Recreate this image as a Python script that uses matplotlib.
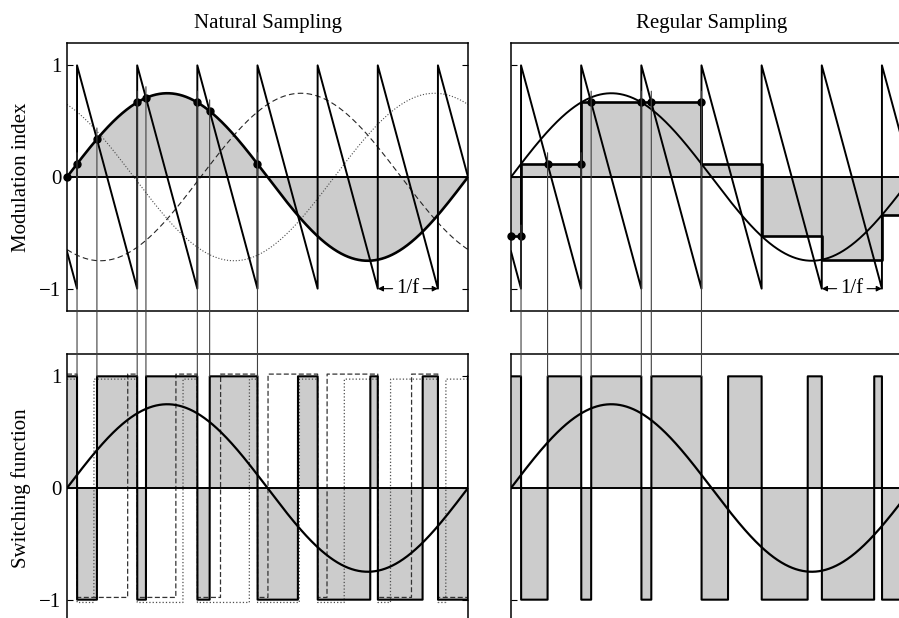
import numpy as np
import matplotlib.pyplot as plt
from matplotlib.patches import ConnectionPatch

plt.rcParams['font.family'] = ['Liberation Serif', 'DejaVu Serif']

# values (time in units of one modulation period)
m_index = 0.75
carrier_period = 0.15
carrier_offset = 0.025
phase_shifts = [0.0, -2 * np.pi / 3, 2 * np.pi / 3]   # solid, dashed, dotted phase
n_marked = 4                                          # carrier periods marked with dots
titles = ['Natural Sampling', 'Regular Sampling']
ylabels = ['Modulation index', 'Switching function']
yticks = [-1, 0, 1]
ytick_labels = ['\u22121', '0', '1']

GRAY = '#cccccc'


def modulating(t, phase=0.0):
    return m_index * np.sin(2 * np.pi * t + phase)


def carrier(t):
    return 1 - 2 * ((t - carrier_offset) % carrier_period) / carrier_period


def bisect(f, a, b, n=60):
    for _ in range(n):
        c = 0.5 * (a + b)
        if f(a) * f(c) <= 0:
            b = c
        else:
            a = c
    return 0.5 * (a + b)


jumps = carrier_offset + carrier_period * np.arange(0, 7)
t = np.linspace(0, 1, 40001)
saw = carrier(t)

# sawtooth as a polyline with vertical flanks
saw_x = [0.0]
saw_y = [carrier(0.0)]
for tk in jumps:
    saw_x += [tk, tk]
    saw_y += [-1, 1]
saw_x.append(1.0)
saw_y.append(carrier(1.0))

# regular sampling: sample at each carrier flank, hold until the next one
sample_times = carrier_offset + carrier_period * np.arange(-1, 7)
stair_vals = modulating(sample_times)
stair_x = np.concatenate([[0.0], jumps, [1.0]])
stair_y = np.concatenate([stair_vals, [stair_vals[-1]]])
stair = stair_vals[np.searchsorted(jumps, t, side='right')]

# switching functions
sw_nat = [np.where(modulating(t, ph) > saw, 1.0, -1.0) for ph in phase_shifts]
sw_reg = np.where(stair > saw, 1.0, -1.0)

# intersection points (first few carrier periods)
nat_pts = [(0.0, 0.0)]
reg_pts = [(0.0, stair_vals[0])]
for k in range(n_marked):
    tk = jumps[k]
    nat_pts.append((tk, modulating(tk)))
    reg_pts.append((tk, stair_vals[k]))
    if k < n_marked - 1:
        f = lambda x: modulating(x) - (1 - 2 * (x - tk) / carrier_period)
        tc = bisect(f, tk, tk + carrier_period)
        nat_pts.append((tc, modulating(tc)))
        v = stair_vals[k + 1]
        tc = tk + carrier_period * (1 - v) / 2
        reg_pts.append((tc, v))

fig = plt.figure(figsize=(8.99, 6.18), dpi=100)
W, H = 899, 618


def px_axes(x0, y0, w, h):
    return fig.add_axes([x0 / W, 1 - (y0 + h) / H, w / W, h / H])


ax_tl = px_axes(67, 43, 401, 268)
ax_tr = px_axes(511, 43, 401, 268)
ax_bl = px_axes(67, 354, 401, 268)
ax_br = px_axes(511, 354, 401, 268)

for ax in (ax_tl, ax_tr, ax_bl, ax_br):
    ax.set_xlim(0, 1)
    ax.set_ylim(-1.2, 1.2)
    ax.set_xticks([])
    ax.set_yticks(yticks)
    ax.tick_params(direction='in', length=4, width=0.8, left=True, right=True,
                   labelsize=15, pad=4)
    for s in ax.spines.values():
        s.set_linewidth(1.1)
    ax.axhline(0, color='k', lw=1.4, zorder=4)

for ax in (ax_tl, ax_bl):
    ax.set_yticklabels(ytick_labels)
for ax in (ax_tr, ax_br):
    ax.set_yticklabels([])

ax_tl.set_title(titles[0], fontsize=15, pad=11)
ax_tr.set_title(titles[1], fontsize=15, pad=11)
ax_tl.set_ylabel(ylabels[0], fontsize=15)
ax_bl.set_ylabel(ylabels[1], fontsize=15)
ax_tl.yaxis.set_label_coords(-0.09, 0.5)
ax_bl.yaxis.set_label_coords(-0.09, 0.5)

# top left: natural sampling
ax_tl.fill_between(t, modulating(t), 0, color=GRAY, lw=0, zorder=1)
ax_tl.plot(t, modulating(t, phase_shifts[1]), color='0.15', lw=0.8, ls=(0, (5, 3)), zorder=2)
ax_tl.plot(t, modulating(t, phase_shifts[2]), color='0.3', lw=0.8, ls=':', zorder=2)
ax_tl.plot(t, modulating(t), color='k', lw=1.9, zorder=5)
ax_tl.plot(saw_x, saw_y, color='k', lw=1.4, zorder=5)
px, py = zip(*nat_pts)
ax_tl.plot(px, py, 'o', color='k', ms=5, zorder=7, clip_on=False)

# top right: regular sampling
ax_tr.fill_between(stair_x, stair_y, 0, step='post', color=GRAY, lw=0, zorder=1)
ax_tr.plot(stair_x, stair_y, drawstyle='steps-post', color='k', lw=1.9, zorder=5)
ax_tr.plot(t, modulating(t), color='k', lw=1.4, zorder=5)
ax_tr.plot(saw_x, saw_y, color='k', lw=1.4, zorder=5)
px, py = zip(*reg_pts)
ax_tr.plot(px, py, 'o', color='k', ms=5, zorder=7, clip_on=False)

# carrier period annotation
for ax in (ax_tl, ax_tr):
    t0, t1 = jumps[5], jumps[6]
    tm = 0.5 * (t0 + t1)
    arrow = dict(arrowstyle='-|>', color='k', lw=0.8, mutation_scale=8,
                 shrinkA=0, shrinkB=0)
    ax.annotate('', xy=(t0, -1), xytext=(tm - 0.038, -1), arrowprops=arrow, zorder=6)
    ax.annotate('', xy=(t1, -1), xytext=(tm + 0.038, -1), arrowprops=arrow, zorder=6)
    ax.text(tm, -1, '1/f', ha='center', va='center', fontsize=15, zorder=6)

# bottom left: natural switching functions
ax_bl.fill_between(t, sw_nat[0], 0, color=GRAY, lw=0, zorder=1)
ax_bl.plot(t, sw_nat[1] + 0.02, color='0.2', lw=0.9, ls=(0, (4, 2)), zorder=2)
ax_bl.plot(t, sw_nat[2] - 0.025, color='0.3', lw=0.9, ls=':', zorder=2)
ax_bl.plot(t, sw_nat[0], color='k', lw=1.5, zorder=3)
ax_bl.plot(t, modulating(t), color='k', lw=1.6, zorder=5)

# bottom right: regular switching function
ax_br.fill_between(t, sw_reg, 0, color=GRAY, lw=0, zorder=1)
ax_br.plot(t, sw_reg, color='k', lw=1.5, zorder=3)
ax_br.plot(t, modulating(t), color='k', lw=1.6, zorder=5)

# connectors from crossing points down to the switching functions
for top, bot, pts in ((ax_tl, ax_bl, nat_pts[1:]), (ax_tr, ax_br, reg_pts[1:])):
    for tc, v in pts:
        con = ConnectionPatch(xyA=(tc, v + 0.1), coordsA=top.transData,
                              xyB=(tc, 1.0), coordsB=bot.transData,
                              color='0.25', lw=0.8)
        fig.add_artist(con)

fig.savefig('out.png', dpi=100)
